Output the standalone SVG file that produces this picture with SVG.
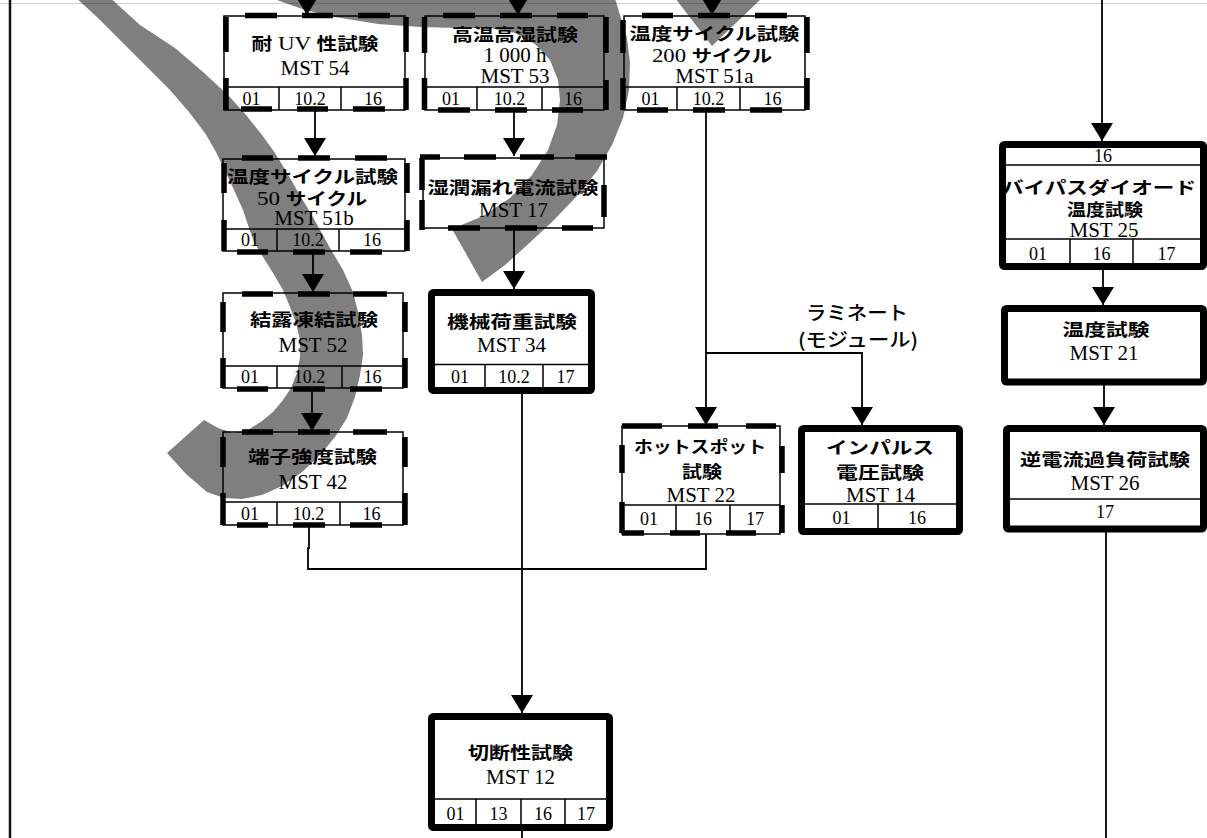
<svg xmlns="http://www.w3.org/2000/svg" width="1207" height="838" viewBox="0 0 1207 838">
<style>
.box{fill:#fff;stroke:#000;stroke-width:1.5}
.thick{fill:#fff;stroke:#000;stroke-width:7}
.sep{stroke:#000;stroke-width:1.5;fill:none}
.dash{stroke:#000;stroke-width:5.5;fill:none}
.jp{font-family:"Noto Sans CJK JP",sans-serif;font-weight:700;font-size:17px;text-anchor:middle;fill:#000}
.mst{font-family:"Liberation Serif",serif;font-size:21px;text-anchor:middle;fill:#000}
.num{font-family:"Liberation Serif",serif;font-size:18px;text-anchor:middle;fill:#000}
.lbl{font-family:"Noto Sans CJK JP",sans-serif;font-size:19px;font-weight:500;text-anchor:middle;fill:#000}
.con{stroke:#000;stroke-width:1.8;fill:none}
.ov{fill:#000;fill-opacity:0.5}
</style>
<defs>
<marker id="ah" markerUnits="userSpaceOnUse" markerWidth="18" markerHeight="22" refX="18" refY="11" orient="auto"><path d="M0,0 L18,11 L0,22 z" fill="#000"/></marker>
</defs>
<rect x="0" y="0" width="1207" height="838" fill="#fff"/>
<g id="page">
<line x1="0" y1="3.5" x2="1207" y2="3.5" stroke="#cfcfcf" stroke-width="1"/>
<line x1="10" y1="0" x2="10" y2="838" stroke="#111" stroke-width="2.5"/>
</g>

<g id="connectors">
<path class="con" d="M307,-12 V15" marker-end="url(#ah)"/>
<path class="con" d="M518,-12 V15" marker-end="url(#ah)"/>
<path class="con" d="M712,-12 V15" marker-end="url(#ah)"/>
<path class="con" d="M315,110 V156" marker-end="url(#ah)"/>
<path class="con" d="M313,251 V292" marker-end="url(#ah)"/>
<path class="con" d="M312,388 V431" marker-end="url(#ah)"/>
<path class="con" d="M514,110 V156" marker-end="url(#ah)"/>
<path class="con" d="M514,228 V289" marker-end="url(#ah)"/>
<path class="con" d="M706,110 V425" marker-end="url(#ah)"/>
<path class="con" d="M706,353 H862 V425" marker-end="url(#ah)"/>
<path class="con" d="M522,394 V713" marker-end="url(#ah)"/>
<path class="con" d="M309,525 V548 H308 V569 H706 V534"/>
<path class="con" d="M1102,-12 V141" marker-end="url(#ah)"/>
<path class="con" d="M1103,270 V305" marker-end="url(#ah)"/>
<path class="con" d="M1104,385 V425" marker-end="url(#ah)"/>
<path class="con" d="M1106,532 V838"/>
<path class="con" d="M522,831 V838"/>
<text class="lbl" x="857" y="320" textLength="102" lengthAdjust="spacingAndGlyphs">ラミネート</text>
<text class="lbl" x="858" y="347" textLength="120" lengthAdjust="spacingAndGlyphs">(モジュール)</text>
</g>

<g id="mst54">
<rect class="box" x="224" y="16" width="181" height="94"/>
<path class="sep" d="M224,87H405 M279,87V110 M341,87V110"/>
<path class="dash" d="M245,15.5H277 M302,15.5H333 M358,15.5H390 M241,109H272 M297,109H328 M353,109H385 M226,17V52 M226,78V110 M406,17V52 M406,78V110"/>
<text class="jp" x="315" y="50" textLength="127" lengthAdjust="spacingAndGlyphs">耐<tspan font-family="Liberation Serif" font-weight="400" font-size="19"> UV </tspan>性試験</text>
<text class="mst" x="315" y="75">MST 54</text>
<text class="num" x="251.5" y="105">01</text><text class="num" x="310" y="105">10.2</text><text class="num" x="373" y="105">16</text>
</g>

<g id="mst53">
<rect class="box" x="425" y="16" width="179" height="94"/>
<path class="sep" d="M425,87H604 M477,87V110 M542,87V110"/>
<path class="dash" d="M443,15.5H475 M500,15.5H532 M557,15.5H588 M438,110H470 M495,110H527 M552,110H583 M424.5,17V53 M424.5,78V110 M606,17V53 M606,80V110"/>
<text class="jp" x="515" y="41" textLength="126" lengthAdjust="spacingAndGlyphs">高温高湿試験</text>
<text class="mst" x="515" y="62">1 000 h</text>
<text class="mst" x="515" y="83">MST 53</text>
<text class="num" x="451" y="105">01</text><text class="num" x="509.5" y="105">10.2</text><text class="num" x="573" y="105">16</text>
</g>

<g id="mst51a">
<rect class="box" x="624" y="16" width="181" height="94"/>
<path class="sep" d="M624,87H805 M677,87V110 M740,87V110"/>
<path class="dash" d="M642,15.5H673 M698,15.5H730 M755,15.5H787 M637,110H668 M693,110H725 M750,110H782 M623,20V53 M623,78V110 M807,17V53 M807,78V110"/>
<text class="jp" x="714.5" y="40" textLength="170" lengthAdjust="spacingAndGlyphs">温度サイクル試験</text>
<text class="jp" x="712" y="62" textLength="120" lengthAdjust="spacingAndGlyphs"><tspan font-family="Liberation Serif" font-weight="400" font-size="19">200 </tspan>サイクル</text>
<text class="mst" x="714.5" y="83">MST 51a</text>
<text class="num" x="650.5" y="105">01</text><text class="num" x="708.5" y="105">10.2</text><text class="num" x="772.5" y="105">16</text>
</g>

<g id="mst51b">
<rect class="box" x="223" y="159" width="182" height="92"/>
<path class="sep" d="M223,229H405 M277,229V251 M339,229V251"/>
<path class="dash" d="M242,158H273 M298,158H330 M355,158H387 M237,252H268 M293,252H325 M350,252H382 M224,163V193 M224,220V251 M407,163V193 M407,220V251"/>
<text class="jp" x="312.5" y="183" textLength="171" lengthAdjust="spacingAndGlyphs">温度サイクル試験</text>
<text class="jp" x="312" y="205" textLength="110" lengthAdjust="spacingAndGlyphs"><tspan font-family="Liberation Serif" font-weight="400" font-size="19">50 </tspan>サイクル</text>
<text class="mst" x="314" y="225">MST 51b</text>
<text class="num" x="250" y="246">01</text><text class="num" x="308" y="246">10.2</text><text class="num" x="372" y="246">16</text>
</g>

<g id="mst17">
<rect class="box" x="423" y="158" width="181" height="70"/>
<path class="dash" d="M420,157H440 M464,157H496 M520,157H554 M575,157H607 M448,228H480 M505,228H537 M562,228H593 M422,158V190 M422,200V230 M604,185V217"/>
<text class="jp" x="513" y="194" textLength="171" lengthAdjust="spacingAndGlyphs">湿潤漏れ電流試験</text>
<text class="mst" x="513.5" y="217">MST 17</text>
</g>

<g id="mst52">
<rect class="box" x="223" y="293" width="180" height="95"/>
<path class="sep" d="M223,366H403 M277,366V388 M342,366V388"/>
<path class="dash" d="M242,294H273 M298,294H330 M353,294H387 M237,389H268 M293,389H325 M350,389H382 M223,302V332 M223,358V388 M405,302V332 M405,358V388"/>
<text class="jp" x="314" y="326" textLength="128" lengthAdjust="spacingAndGlyphs">結露凍結試験</text>
<text class="mst" x="313" y="352">MST 52</text>
<text class="num" x="250" y="383">01</text><text class="num" x="309.5" y="383">10.2</text><text class="num" x="372.5" y="383">16</text>
</g>

<g id="mst42">
<rect class="box" x="223" y="432" width="180" height="93"/>
<path class="sep" d="M223,502H403 M277,502V525 M340,502V525"/>
<path class="dash" d="M242,432H273 M298,432H330 M353,432H387 M237,525H268 M293,525H325 M350,525H382 M223,437V467 M223,493V525 M405,437V467 M405,493V525"/>
<text class="jp" x="312.5" y="463" textLength="129" lengthAdjust="spacingAndGlyphs">端子強度試験</text>
<text class="mst" x="313" y="489">MST 42</text>
<text class="num" x="250" y="520">01</text><text class="num" x="308.5" y="520">10.2</text><text class="num" x="371.5" y="520">16</text>
</g>

<g id="mst34">
<rect class="thick" x="431.5" y="292.5" width="160" height="98" rx="2"/>
<path class="sep" d="M435,364.5H588 M485,364.5V387 M543,364.5V387"/>
<text class="jp" x="512" y="328" textLength="130" lengthAdjust="spacingAndGlyphs">機械荷重試験</text>
<text class="mst" x="511.5" y="352">MST 34</text>
<text class="num" x="460" y="383">01</text><text class="num" x="514" y="383">10.2</text><text class="num" x="565.5" y="383">17</text>
</g>

<g id="mst22">
<rect class="box" x="622" y="426" width="158" height="108"/>
<path class="sep" d="M622,505H780 M676,505V534 M730,505V534"/>
<path class="dash" d="M622,426H662 M688,426H718 M746,426H776 M622,533H644 M670,533H700 M726,533H756 M622,445V473 M622,502V533 M782,446V473 M782,505V533"/>
<text class="jp" x="700" y="453" textLength="132" lengthAdjust="spacingAndGlyphs">ホットスポット</text>
<text class="jp" x="702" y="478" textLength="40" lengthAdjust="spacingAndGlyphs">試験</text>
<text class="mst" x="701" y="502">MST 22</text>
<text class="num" x="649" y="525">01</text><text class="num" x="703" y="525">16</text><text class="num" x="755" y="525">17</text>
</g>

<g id="mst14">
<rect class="thick" x="801.5" y="428.5" width="158" height="103" rx="2"/>
<path class="sep" d="M805,504H956 M878,504V528"/>
<text class="jp" x="880" y="454" textLength="108" lengthAdjust="spacingAndGlyphs">インパルス</text>
<text class="jp" x="880" y="479" textLength="88" lengthAdjust="spacingAndGlyphs">電圧試験</text>
<text class="mst" x="880.5" y="502">MST 14</text>
<text class="num" x="841.5" y="524">01</text><text class="num" x="917" y="524">16</text>
</g>

<g id="mst25">
<rect class="thick" x="1002.5" y="144.5" width="201" height="122" rx="2"/>
<path class="sep" d="M1006,165H1200 M1006,239H1200 M1070,239V263 M1133,239V263"/>
<text class="num" x="1103" y="162">16</text>
<text class="jp" x="1099" y="194" textLength="194" lengthAdjust="spacingAndGlyphs">バイパスダイオード</text>
<text class="jp" x="1105" y="216" textLength="76" lengthAdjust="spacingAndGlyphs">温度試験</text>
<text class="mst" x="1104" y="237">MST 25</text>
<text class="num" x="1038" y="260">01</text><text class="num" x="1101.5" y="260">16</text><text class="num" x="1166.5" y="260">17</text>
</g>

<g id="mst21">
<rect class="thick" x="1004.5" y="308.5" width="199" height="73.5" rx="2"/>
<text class="jp" x="1106" y="336" textLength="87" lengthAdjust="spacingAndGlyphs">温度試験</text>
<text class="mst" x="1104" y="360">MST 21</text>
</g>

<g id="mst26">
<rect class="thick" x="1006.5" y="428.5" width="197" height="100.5" rx="2"/>
<path class="sep" d="M1010,499H1200"/>
<text class="jp" x="1105" y="466" textLength="170" lengthAdjust="spacingAndGlyphs">逆電流過負荷試験</text>
<text class="mst" x="1105" y="490">MST 26</text>
<text class="num" x="1105" y="518">17</text>
</g>

<g id="mst12">
<rect class="thick" x="431.5" y="716.5" width="178" height="111" rx="2"/>
<path class="sep" d="M435,799H606 M476,799V824 M521,799V824 M565,799V824"/>
<text class="jp" x="520.5" y="759" textLength="105" lengthAdjust="spacingAndGlyphs">切断性試験</text>
<text class="mst" x="520.5" y="784">MST 12</text>
<text class="num" x="455.5" y="820">01</text><text class="num" x="498.5" y="820">13</text><text class="num" x="543" y="820">16</text><text class="num" x="586" y="820">17</text>
</g>

<g id="overlay">
<path class="ov" d="M73,-5 L98,18 L125,45 L148,68 L170,90 L189,112 L205,133 L216,152 L225,171 L234,190 L243,210 L249,228 L254,242 L263,257 L273,273 L283,290 L290,307 L296,323 L300,340 L300,357 L297,373 L291,388 L283,400 L273,412 L262,421 L248,430 L233,433 L218,428 L204,420 L167,453 L186,474 L207,492 L224,498 L242,499 L262,495 L282,486 L302,472 L320,455 L335,437 L347,418 L355,397 L360,375 L363,355 L362,335 L358,312 L353,292 L343,270 L330,248 L320,230 L310,212 L298,192 L286,171 L275,153 L262,135 L246,115 L228,95 L203,72 L175,48 L140,25 L107,-5 Z"/>
<path class="ov" d="M270,-5 L277,0 L305,10 L335,17 L378,24 L420,27 L458,28 L490,28 L515,33 L535,44 L550,60 L558,80 L560,100 L557,125 L548,150 L532,175 L510,198 L483,216 L452,229 L482,282 L505,265 L525,247 L552,222 L577,196 L597,171 L612,145 L623,118 L629,90 L630,63 L627,38 L620,15 L614,-5 Z"/>
<path class="ov" d="M675,-2 L762,-2 L712,46 Z"/>
</g>
</svg>
